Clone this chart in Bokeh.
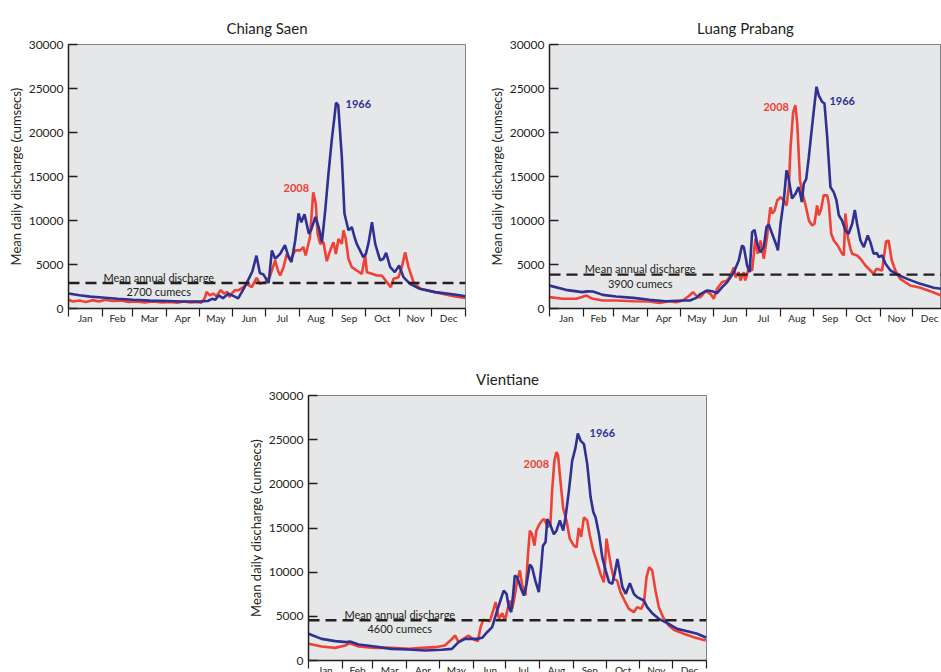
from bokeh.plotting import figure
from bokeh.models import Range1d, FixedTicker, Span, ColumnDataSource, Spacer
from bokeh.layouts import column, row
from bokeh.core.properties import value
from bokeh.embed import file_html
from bokeh.resources import INLINE

# ---------------- data ----------------
month_names = ["Jan", "Feb", "Mar", "Apr", "May", "Jun", "Jul", "Aug", "Sep", "Oct", "Nov", "Dec"]
month_start = [0, 31, 59, 90, 120, 151, 181, 212, 243, 273, 304, 334, 365]
y_ticks = [0, 5000, 10000, 15000, 20000, 25000, 30000]

# Chiang Saen
cs_1966_day = [0, 10, 20, 31, 45, 59, 75, 90, 105, 120, 128, 132, 135, 138, 142, 147, 152, 156, 161, 165, 169, 172.8, 176, 179, 184, 187, 190, 194.6, 199, 202, 205, 208.4, 211.5, 214, 217, 221, 223, 227, 230, 233, 236, 239, 242, 244.5, 246, 248, 251.3, 253.7, 257.4, 260.5, 263, 265, 268, 271, 273.4, 276, 279, 282, 286.5, 289.6, 292, 295.8, 300, 304, 308, 314, 323, 337, 355, 365]
cs_1966_q = [1700, 1500, 1350, 1250, 1100, 1000, 900, 850, 800, 800, 850, 1100, 1000, 1480, 1170, 1670, 1400, 1150, 2240, 3200, 4200, 6000, 4000, 3900, 2900, 6600, 5650, 6200, 7200, 6000, 5270, 7700, 10800, 9800, 10700, 8500, 8900, 10400, 9250, 7540, 11100, 15300, 19100, 21750, 23400, 23100, 17200, 10800, 8900, 9250, 8100, 7350, 6600, 5840, 6200, 7540, 9800, 7350, 5460, 5650, 6330, 4700, 4130, 4890, 3560, 2800, 2240, 1860, 1600, 1400]
cs_2008_day = [0, 4, 10, 16, 22, 28, 34, 40, 48, 55, 62, 70, 78, 86, 94, 100, 106, 112, 118, 122, 125, 127, 130, 133, 136, 140, 143, 146, 148, 150, 153, 156, 161, 164, 168.5, 173, 176, 181, 185, 190, 192.5, 194.6, 197.7, 200.7, 203.8, 208.4, 213, 216, 218, 222, 225, 227.4, 229, 231.4, 234.4, 237.5, 240.6, 243.6, 245.8, 248.2, 251.3, 252.8, 254.9, 257.4, 260.5, 265, 269.7, 272.8, 274.3, 279, 283.5, 288, 292.7, 296.3, 298.8, 303.4, 306.5, 309.5, 312.6, 317.2, 323.3, 337, 355.5, 365]
cs_2008_q = [1000, 800, 900, 750, 950, 800, 1000, 850, 900, 750, 800, 700, 800, 700, 750, 650, 800, 700, 750, 650, 1100, 1900, 1500, 1700, 1400, 2100, 1700, 1900, 1300, 1700, 2100, 2050, 2430, 2800, 2430, 3490, 2800, 3000, 3560, 5460, 4320, 3750, 4700, 6200, 5460, 6600, 6600, 6970, 6030, 8100, 13200, 11900, 8500, 7350, 7540, 5380, 6600, 7540, 6200, 7900, 7350, 8870, 7920, 5650, 4700, 4320, 3940, 6030, 4130, 3940, 3750, 3750, 3000, 2430, 3370, 3560, 4700, 6400, 4700, 3000, 2240, 1860, 1360, 1210]
cs_mean = 2900
cs_mean_label = "2700 cumecs"

# Luang Prabang
lp_1966_day = [0, 15, 30, 35, 40, 49, 61, 77, 92, 107, 123, 129, 135, 139, 145, 149.5, 154, 158.8, 163.4, 169.5, 174, 177, 178.7, 181.7, 184, 186.3, 188.5, 191, 194, 197, 199.5, 201.6, 204.7, 208.7, 210, 212.4, 215.4, 217.9, 219.4, 223, 226, 229, 230.6, 232, 233.8, 236, 238.4, 241.5, 244, 245.5, 247.6, 250.6, 252.8, 255.3, 258.3, 261.4, 263.8, 266, 269, 272, 275, 278.3, 280.7, 282.8, 285.9, 289, 292.6, 295, 298, 301, 302.8, 305.8, 308.9, 313.5, 319.6, 328.8, 341, 353.3, 360, 365]
lp_1966_q = [2600, 2120, 1860, 1950, 1930, 1550, 1360, 1210, 985, 830, 910, 910, 1210, 1670, 2050, 1970, 1740, 2430, 3000, 4130, 5460, 7160, 6970, 4890, 4130, 8680, 8940, 7350, 6400, 6970, 9250, 9550, 8490, 7160, 6600, 9630, 12300, 15700, 15100, 12500, 13000, 13800, 13000, 12100, 14200, 14700, 17200, 20800, 23600, 25200, 24200, 23500, 23300, 19500, 13800, 13200, 12300, 10600, 10000, 8870, 8490, 9630, 11200, 9630, 7730, 6970, 8300, 7540, 6220, 6290, 5840, 6030, 5080, 4320, 3870, 3370, 2800, 2350, 2240, 2100]
lp_2008_day = [0, 12, 24.5, 30, 33.7, 38, 40, 49, 61, 77, 92, 101, 110, 116.5, 122.6, 128.7, 131.8, 136.4, 138.8, 143.4, 148, 151, 154, 158.8, 163.4, 166.4, 169.5, 171, 174, 175.6, 178.7, 180, 183, 186.3, 189.3, 191.5, 194, 197, 200, 203, 205, 207, 209.4, 212.4, 215.4, 218, 220, 221.6, 224, 226, 227.8, 230.3, 232.4, 235.5, 238.5, 241.5, 243.6, 246, 247.6, 249.8, 252, 255.3, 256.8, 259, 261.4, 265, 269, 270.6, 272, 274.3, 276.7, 278.3, 282.8, 285.9, 290.5, 295, 298, 300.6, 305.8, 307, 309.5, 311.7, 314.7, 318, 322.4, 331.7, 341, 350, 360, 365]
lp_2008_q = [1290, 1100, 1100, 1300, 1480, 1200, 1100, 910, 910, 830, 800, 640, 830, 720, 910, 1480, 1860, 1290, 1290, 1970, 1670, 1100, 2240, 3000, 3180, 3750, 4700, 3560, 4130, 3180, 4130, 3180, 4510, 4320, 7920, 6220, 7730, 5650, 8100, 11500, 10800, 11150, 12300, 12650, 12300, 11700, 13800, 18300, 22300, 23100, 21000, 14550, 13200, 11700, 10000, 9440, 9630, 11700, 10600, 11300, 12850, 12850, 11900, 8490, 7730, 7160, 6220, 6030, 10800, 8100, 6780, 6220, 6030, 5650, 4890, 4320, 3940, 4510, 4320, 5460, 7620, 7730, 5460, 4320, 3370, 2610, 2350, 1970, 1480, 1300]
lp_mean = 3850
lp_mean_label = "3900 cumecs"

# Vientiane
vt_1966_day = [0, 12, 24.5, 35, 38, 46, 61, 76, 92, 107, 122, 131.5, 137.6, 143.7, 148.6, 154.7, 159.3, 163.8, 168.4, 173, 176, 179, 181.6, 183.7, 185.9, 187.7, 189.2, 191.4, 194.4, 197.5, 200, 203, 205, 208, 211.2, 213.4, 215, 217.4, 219, 221.3, 225, 227.4, 230.5, 233.6, 235.7, 238.8, 241.8, 244.9, 247, 249.5, 252.6, 255.6, 258.7, 261.2, 263.3, 266.4, 269.4, 272.5, 275.6, 278.6, 280.7, 283.3, 285.8, 287.9, 291, 294.7, 298.4, 301.4, 304.5, 307.6, 310.6, 315.2, 321.3, 329, 338.2, 347.4, 356.5, 364, 365]
vt_1966_q = [3020, 2450, 2190, 2080, 2150, 1810, 1580, 1320, 1245, 1130, 1210, 1320, 2080, 2450, 2450, 2450, 2570, 3200, 3770, 5660, 6790, 7920, 7550, 6040, 5470, 7550, 9620, 9430, 8300, 7360, 8680, 10870, 10560, 9050, 7740, 10560, 13000, 13400, 16000, 15500, 14300, 14700, 15850, 14700, 16200, 19200, 22600, 24100, 25700, 24900, 24500, 22260, 18500, 16800, 16200, 14300, 11700, 10200, 8870, 8680, 9800, 11500, 9800, 8300, 7550, 8750, 7550, 7170, 6980, 6790, 6040, 5360, 4720, 4230, 3580, 3320, 3020, 2640, 2600]
vt_2008_day = [0, 12, 24.5, 33.6, 38, 46, 61, 76, 92, 104, 116, 125, 130, 134.5, 137.6, 142, 146.7, 148.6, 151.6, 155.3, 157.8, 160.3, 163.3, 166.4, 169.4, 171.6, 174.6, 177.7, 180.1, 182.3, 184.6, 186.8, 188.9, 191.4, 193.8, 196, 199, 201.1, 203, 205, 207.2, 209, 211.2, 214.2, 216.3, 219.4, 221.9, 223.4, 225.5, 227.4, 228.9, 231, 233.6, 236.6, 239.6, 243.3, 245.8, 247.9, 250, 252.6, 255.6, 258, 261.1, 264.2, 267.8, 270.9, 273.3, 275.5, 277.6, 280.1, 283.1, 286.1, 289.8, 293.8, 298.4, 301.4, 305.1, 307.6, 310, 312.4, 315.2, 318.2, 321.3, 325.2, 330.4, 335, 344.2, 353.3, 364.3]
vt_2008_q = [1890, 1580, 1430, 1700, 1960, 1580, 1430, 1430, 1320, 1430, 1510, 1700, 2260, 2830, 2080, 2450, 2830, 2640, 2380, 2190, 3770, 4600, 4530, 4450, 5660, 6600, 4720, 5360, 4530, 5660, 6790, 5850, 7170, 9050, 10200, 8490, 7360, 11700, 14700, 14300, 13000, 14700, 15300, 15850, 16000, 15100, 15500, 19200, 22600, 23600, 23200, 20400, 17200, 15850, 13800, 13000, 12800, 15000, 14000, 16200, 15850, 14150, 12450, 11300, 9800, 8870, 13800, 12100, 10560, 9240, 9050, 7740, 6790, 5850, 5470, 6040, 5850, 6490, 9430, 10560, 10200, 7920, 6040, 4900, 3960, 3470, 3020, 2640, 2260]
vt_mean = 4550
vt_mean_label = "4600 cumecs"

# ---------------- styling ----------------
FONT = "Lato"
INK = "#231f20"
BLUE = "#2e3192"
RED = "#ef4136"
BG = "#e6e7e8"

month_mid = [(a + b) / 2 for a, b in zip(month_start[:-1], month_start[1:])]


def make_panel(title, d66, q66, d08, q08, mean, mean_label, lab08, lab66, mean_pos,
               x_end, frame_w, frame_h, bl, br, bt, bb):
    p = figure(output_backend="svg", toolbar_location=None,
               frame_width=frame_w, frame_height=frame_h,
               x_range=Range1d(0, x_end), y_range=Range1d(0, 30000),
               min_border_left=bl, min_border_right=br,
               min_border_top=bt, min_border_bottom=bb,
               background_fill_color=BG, border_fill_color="white")
    p.title.text = title
    p.title.align = "center"
    p.title.text_font = FONT
    p.title.text_font_size = "15px"
    p.title.text_font_style = "normal"
    p.title.text_color = INK
    p.title.standoff = 16
    p.grid.visible = False
    p.outline_line_color = "#808285"
    p.outline_line_width = 1

    ya = p.yaxis[0]
    ya.ticker = FixedTicker(ticks=y_ticks)
    ya.major_tick_in = 9
    ya.major_tick_out = 0
    ya.minor_tick_in = 0
    ya.minor_tick_out = 0
    ya.axis_line_color = INK
    ya.axis_line_width = 1.5
    ya.major_tick_line_color = INK
    ya.major_tick_line_width = 1.5
    ya.major_label_text_font = FONT
    ya.major_label_text_font_size = "12px"
    ya.major_label_text_color = INK
    ya.major_label_standoff = 5
    ya.axis_label = "Mean daily discharge (cumsecs)"
    ya.axis_label_text_font = FONT
    ya.axis_label_text_font_size = "13px"
    ya.axis_label_text_font_style = "normal"
    ya.axis_label_text_color = INK
    ya.axis_label_standoff = 2

    xa = p.xaxis[0]
    xa.ticker = FixedTicker(ticks=month_mid, minor_ticks=month_start)
    xa.major_label_overrides = {m: n for m, n in zip(month_mid, month_names)}
    xa.major_tick_in = 0
    xa.major_tick_out = 0
    xa.minor_tick_in = 0
    xa.minor_tick_out = 8
    xa.minor_tick_line_color = INK
    xa.minor_tick_line_width = 1.2
    xa.axis_line_color = INK
    xa.axis_line_width = 1.5
    xa.major_label_text_font = FONT
    xa.major_label_text_font_size = "10px"
    xa.major_label_text_color = INK
    xa.major_label_standoff = -5

    p.line(d08, q08, line_color=RED, line_width=2.6)
    p.line(d66, q66, line_color=BLUE, line_width=2.6)

    p.add_layout(Span(location=mean, dimension="width", line_color=INK,
                      line_width=2.4, line_dash="11 6"))

    src = ColumnDataSource(dict(x=[mean_pos[0], mean_pos[0]],
                                y=[mean_pos[1], mean_pos[2]],
                                t=["Mean annual discharge", mean_label]))
    p.text(x="x", y="y", text="t", source=src, text_font=value(FONT),
           text_font_size="11px", text_color=INK, text_align="center",
           text_baseline="middle")
    p.text(x=[lab08[0]], y=[lab08[1]], text=["2008"], text_font=value(FONT),
           text_font_size="11px", text_font_style="bold", text_color=RED,
           text_align="left", text_baseline="middle")
    p.text(x=[lab66[0]], y=[lab66[1]], text=["1966"], text_font=value(FONT),
           text_font_size="11px", text_font_style="bold", text_color=BLUE,
           text_align="left", text_baseline="middle")
    return p


p1 = make_panel("Chiang Saen", cs_1966_day, cs_1966_q, cs_2008_day, cs_2008_q,
                cs_mean, cs_mean_label, (197.7, 13750), (254.7, 23290), (83, 3520, 1930),
                365, 397, 264, 68, 16, 44, 43)
p2 = make_panel("Luang Prabang", lp_1966_day, lp_1966_q, lp_2008_day, lp_2008_q,
                lp_mean, lp_mean_label, (196.7, 22950), (257.4, 23630), (83.4, 4540, 2840),
                360.4, 392, 264, 68, 0, 44, 43)
p3 = make_panel("Vientiane", vt_1966_day, vt_1966_q, vt_2008_day, vt_2008_q,
                vt_mean, vt_mean_label, (197.2, 22190), (257.7, 25700), (83.7, 5170, 3590),
                365, 398, 265, 68, 10, 44, 12)

layout = column(row(p1, p2), row(Spacer(width=240, height=10), p3))

open("out.html", "w").write(file_html(layout, INLINE))
